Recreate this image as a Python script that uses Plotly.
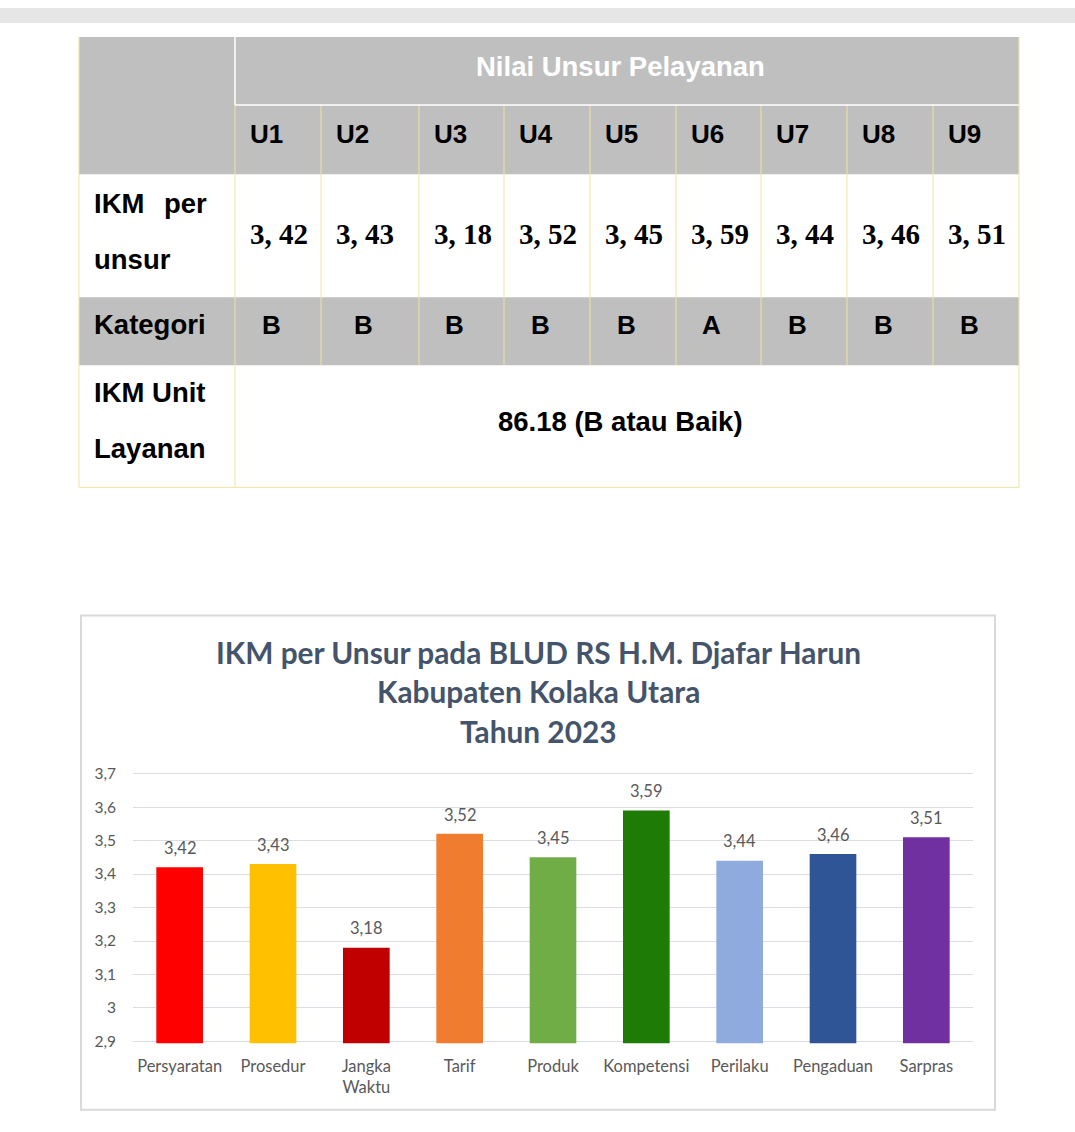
import plotly.graph_objects as go

# ---------------- data ----------------
unsur_codes = ["U1", "U2", "U3", "U4", "U5", "U6", "U7", "U8", "U9"]
unsur_names = ["Persyaratan", "Prosedur", "Jangka<br>Waktu", "Tarif", "Produk",
               "Kompetensi", "Perilaku", "Pengaduan", "Sarpras"]
ikm_values = [3.42, 3.43, 3.18, 3.52, 3.45, 3.59, 3.44, 3.46, 3.51]
kategori = ["B", "B", "B", "B", "B", "A", "B", "B", "B"]
ikm_unit_text = "86.18 (B atau Baik)"
table_header = "Nilai Unsur Pelayanan"
row_labels = ["Kategori"]
chart_title = ["IKM per Unsur pada BLUD RS H.M. Djafar Harun",
               "Kabupaten Kolaka Utara", "Tahun 2023"]
bar_colors = ["#ff0000", "#ffc000", "#c00000", "#f07c30", "#70ad47",
              "#1e7b06", "#8faadc", "#2f5597", "#7030a0"]
y_ticks = [2.9, 3.0, 3.1, 3.2, 3.3, 3.4, 3.5, 3.6, 3.7]

# ---------------- layout helpers (page pixels -> paper coords) ----------------
W = 1075
FH = 1132
OFF = 8.0      # page offset of the figure observed in the rendered page
SC = 0.986     # vertical scale observed in the rendered page
def X(p):
    return p / W
def Y(p):
    return 1 - ((p - OFF) / SC) / FH

def fmt_comma(v, sep=","):
    s = f"{v:.2f}"
    a, b = s.split(".")
    return a + sep + b

fig = go.Figure()
fig.add_trace(go.Bar(
    x=unsur_names, y=ikm_values, marker=dict(color=bar_colors, line=dict(width=0)),
    width=0.5, hoverinfo="skip", showlegend=False,
))

shapes = []
annotations = []
shapes.append(dict(type="rect", xref="paper", yref="paper", x0=0, x1=1, y0=Y(23), y1=1,
                   fillcolor="#e6e6e6", line=dict(width=0), layer="below"))

# ---------------- table ----------------
col_edges = [79, 235, 321, 419, 504, 590, 676, 761, 847, 933, 1019]
row_edges = [37, 105, 174, 297, 365, 487]
grey = "#bfbfbf"
yel = "#efe3a0"

def rect(x0, y0, x1, y1, color):
    shapes.append(dict(type="rect", xref="paper", yref="paper", x0=X(x0), x1=X(x1),
                       y0=Y(y1), y1=Y(y0), fillcolor=color, line=dict(width=0)))

def line(x0, y0, x1, y1, color, w=1):
    shapes.append(dict(type="line", xref="paper", yref="paper", x0=X(x0), x1=X(x1),
                       y0=Y(y0), y1=Y(y1), line=dict(color=color, width=w)))

rect(col_edges[0], row_edges[0], col_edges[-1], row_edges[2], grey)
rect(col_edges[0], row_edges[3], col_edges[-1], row_edges[4], grey)
for xe in col_edges[2:-1]:
    line(xe, row_edges[1], xe, row_edges[4], yel)
line(col_edges[1], row_edges[1], col_edges[1], row_edges[5], yel)
line(col_edges[1], row_edges[0], col_edges[1], row_edges[1], "white", 1.5)
line(col_edges[1], row_edges[1], col_edges[-1], row_edges[1], "white", 1.5)
line(col_edges[0], row_edges[0], col_edges[0], row_edges[5], yel)
line(col_edges[-1], row_edges[0], col_edges[-1], row_edges[5], yel)
line(col_edges[0], row_edges[5], col_edges[-1], row_edges[5], yel)

sans = "Liberation Sans"
serif = "Liberation Serif"
TS = 27.5

def txt(x, y, t, size=TS, color="black", family=sans, xanchor="left"):
    annotations.append(dict(x=X(x), y=Y(y), xref="paper", yref="paper", text=t,
                            showarrow=False, xanchor=xanchor, yanchor="middle",
                            font=dict(family=family, size=size, color=color)))

txt(620, 66, "<b>" + table_header + "</b>", color="white", xanchor="center")
for i, code in enumerate(unsur_codes):
    x0 = col_edges[i + 1]
    x1 = col_edges[i + 2]
    txt(x0 + 13, 134, "<b>" + code + "</b>", size=26)
    txt(x0 + 13, 234, "<b>" + fmt_comma(ikm_values[i], ", ") + "</b>", size=29, family=serif)
    txt((x0 + x1) / 2 - 7, 325, "<b>" + kategori[i] + "</b>", size=26, xanchor="center")

txt(92, 203, "<b>IKM</b>")
txt(209, 203, "<b>per</b>", xanchor="right")
txt(92, 259, "<b>unsur</b>")
txt(92, 324, "<b>" + row_labels[0] + "</b>")
txt(92, 392, "<b>IKM Unit</b>")
txt(92, 448, "<b>Layanan</b>")
txt(620, 421, "<b>" + ikm_unit_text + "</b>", xanchor="center")

# ---------------- chart box ----------------
shapes.append(dict(type="rect", xref="paper", yref="paper", x0=X(81), x1=X(995),
                   y0=Y(1109), y1=Y(615), fillcolor="rgba(0,0,0,0)",
                   line=dict(color="#d9d9d9", width=2)))

title_y = [652, 691, 731]
for t, yy in zip(chart_title, title_y):
    annotations.append(dict(x=X(538), y=Y(yy), xref="paper", yref="paper",
                            text="<b>" + t + "</b>", showarrow=False, xanchor="center",
                            yanchor="middle",
                            font=dict(family="Lato", size=29.8, color="#44546a")))

for name, v in zip(unsur_names, ikm_values):
    annotations.append(dict(x=name, y=v, xref="x", yref="y", text=fmt_comma(v),
                            showarrow=False, yanchor="middle", yshift=19 / SC,
                            font=dict(family="Lato", size=16.5, color="#595959")))

ypad = 0.005
px_per_unit = (1040.7 - 773) / 0.8
fig.update_layout(
    width=W, height=FH, margin=dict(l=0, r=0, t=0, b=0),
    paper_bgcolor="white", plot_bgcolor="white",
    separators=",.",
    shapes=shapes, annotations=annotations,
    bargap=0.5,
    xaxis=dict(domain=[X(133), X(973)], showgrid=False, zeroline=False, showline=False,
               ticks="", tickfont=dict(family="Lato", size=16.5, color="#595959"),
               ticklabelstandoff=11, fixedrange=True),
    yaxis=dict(domain=[Y(1040.7 + ypad * px_per_unit), Y(773 - ypad * px_per_unit)],
               range=[2.9 - ypad, 3.7 + ypad], tickvals=y_ticks,
               ticktext=[fmt_comma(t, ",")[:-1] if abs(t - 3) > 1e-9 else "3" for t in y_ticks],
               showgrid=True, gridcolor="#dcdce4", gridwidth=1, zeroline=False,
               showline=False, ticks="", ticklabelstandoff=16,
               tickfont=dict(family="Lato", size=15.5, color="#595959"), fixedrange=True),
)

fig.write_html("out.html")
